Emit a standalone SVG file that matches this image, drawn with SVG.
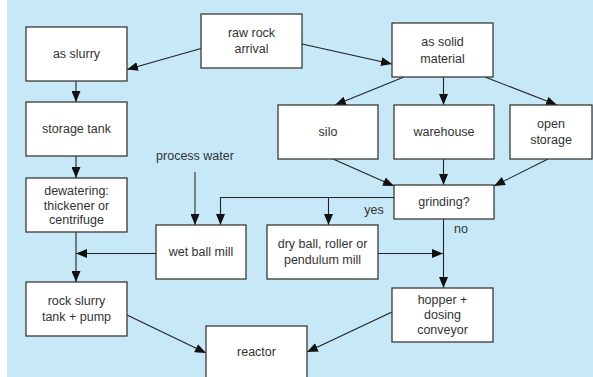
<svg xmlns="http://www.w3.org/2000/svg" width="593" height="377" viewBox="0 0 593 377">
  <style>
    .box { fill: #ffffff; stroke: #3a3a3a; stroke-width: 1.3; }
    .lbl { font-family: "Liberation Sans", Arial, sans-serif; font-size: 12.5px; fill: #333333; text-anchor: middle; dominant-baseline: central; }
    .edge { fill: none; stroke: #222222; stroke-width: 1.1; marker-end: url(#arrow); }
  </style>
  <defs>
    <marker id="arrow" markerUnits="userSpaceOnUse" markerWidth="11" markerHeight="9" refX="11" refY="4.5" orient="auto">
      <path d="M0,0 L11,4.5 L0,9 Z" fill="#111111"/>
    </marker>
  </defs>

  <!-- background panel -->
  <rect x="0" y="0" width="593" height="377" fill="#ffffff"/>
  <rect x="7" y="0" width="586" height="377" fill="#c7e8f7"/>

  <!-- connectors -->
  <g id="connectors">
    <path class="edge" d="M201,48.5 L127,69.5"/>
    <path class="edge" d="M302,44 L392,64"/>
    <path class="edge" d="M76,81 L76,102"/>
    <path class="edge" d="M76,156 L76,178"/>
    <path class="edge" d="M404,77 L335,105"/>
    <path class="edge" d="M443.5,77 L443.5,105"/>
    <path class="edge" d="M485,77 L557,105"/>
    <path class="edge" d="M333,159 L394,186"/>
    <path class="edge" d="M443.5,159 L443.5,185"/>
    <path class="edge" d="M548,159 L494,186"/>
    <path class="edge" d="M394,197.5 L220.5,197.5 L220.5,225"/>
    <path class="edge" d="M328.5,197.5 L328.5,225"/>
    <path class="edge" d="M195,172 L195,225" style="stroke:#555555;stroke-width:1.4"/>
    <path class="edge" d="M443.5,219 L443.5,288"/>
    <path class="edge" d="M378,253.5 L443,253.5"/>
    <path class="edge" d="M156,253.5 L76,253.5"/>
    <path class="edge" d="M76,232 L76,282"/>
    <path class="edge" d="M127,315 L206,353"/>
    <path class="edge" d="M392,312 L307,352"/>
    <text class="lbl" x="374" y="210">yes</text>
    <text class="lbl" x="461" y="229">no</text>
    <text class="lbl" x="195" y="156">process water</text>
  </g>

  <!-- nodes -->
  <g id="raw-rock">
    <rect class="box" x="201" y="14" width="101" height="54"/>
    <text class="lbl" x="251.5" y="32.5">raw rock</text>
    <text class="lbl" x="251.5" y="49">arrival</text>
  </g>
  <g id="as-slurry">
    <rect class="box" x="26" y="27" width="101" height="54"/>
    <text class="lbl" x="76.5" y="54">as slurry</text>
  </g>
  <g id="as-solid">
    <rect class="box" x="392" y="23" width="101" height="54"/>
    <text class="lbl" x="442.5" y="41.5">as solid</text>
    <text class="lbl" x="442.5" y="58.5">material</text>
  </g>
  <g id="storage-tank">
    <rect class="box" x="26" y="102" width="101" height="54"/>
    <text class="lbl" x="76.5" y="129">storage tank</text>
  </g>
  <g id="silo">
    <rect class="box" x="278" y="105" width="100" height="54"/>
    <text class="lbl" x="328" y="132">silo</text>
  </g>
  <g id="warehouse">
    <rect class="box" x="394" y="105" width="100" height="54"/>
    <text class="lbl" x="444" y="132">warehouse</text>
  </g>
  <g id="open-storage">
    <rect class="box" x="510" y="105" width="82" height="54"/>
    <text class="lbl" x="551" y="123.5">open</text>
    <text class="lbl" x="551" y="140">storage</text>
  </g>
  <g id="dewatering">
    <rect class="box" x="26" y="178" width="101" height="54"/>
    <text class="lbl" x="76.5" y="191">dewatering:</text>
    <text class="lbl" x="76.5" y="205.5">thickener or</text>
    <text class="lbl" x="76.5" y="220">centrifuge</text>
  </g>
  <g id="grinding">
    <rect class="box" x="394" y="185" width="100" height="34"/>
    <text class="lbl" x="444" y="201.5">grinding?</text>
  </g>
  <g id="wet-ball-mill">
    <rect class="box" x="156" y="225" width="90" height="54"/>
    <text class="lbl" x="201" y="252">wet ball mill</text>
  </g>
  <g id="dry-mill">
    <rect class="box" x="267" y="225" width="111" height="54"/>
    <text class="lbl" x="322.5" y="243.5">dry ball, roller or</text>
    <text class="lbl" x="322.5" y="260">pendulum mill</text>
  </g>
  <g id="rock-slurry-tank">
    <rect class="box" x="26" y="282" width="101" height="54"/>
    <text class="lbl" x="76.5" y="300.5">rock slurry</text>
    <text class="lbl" x="76.5" y="317">tank + pump</text>
  </g>
  <g id="hopper">
    <rect class="box" x="392" y="288" width="101" height="54"/>
    <text class="lbl" x="442.5" y="300">hopper +</text>
    <text class="lbl" x="442.5" y="315">dosing</text>
    <text class="lbl" x="442.5" y="330">conveyor</text>
  </g>
  <g id="reactor">
    <rect class="box" x="206" y="326" width="101" height="60"/>
    <text class="lbl" x="256.5" y="352">reactor</text>
  </g>
</svg>
